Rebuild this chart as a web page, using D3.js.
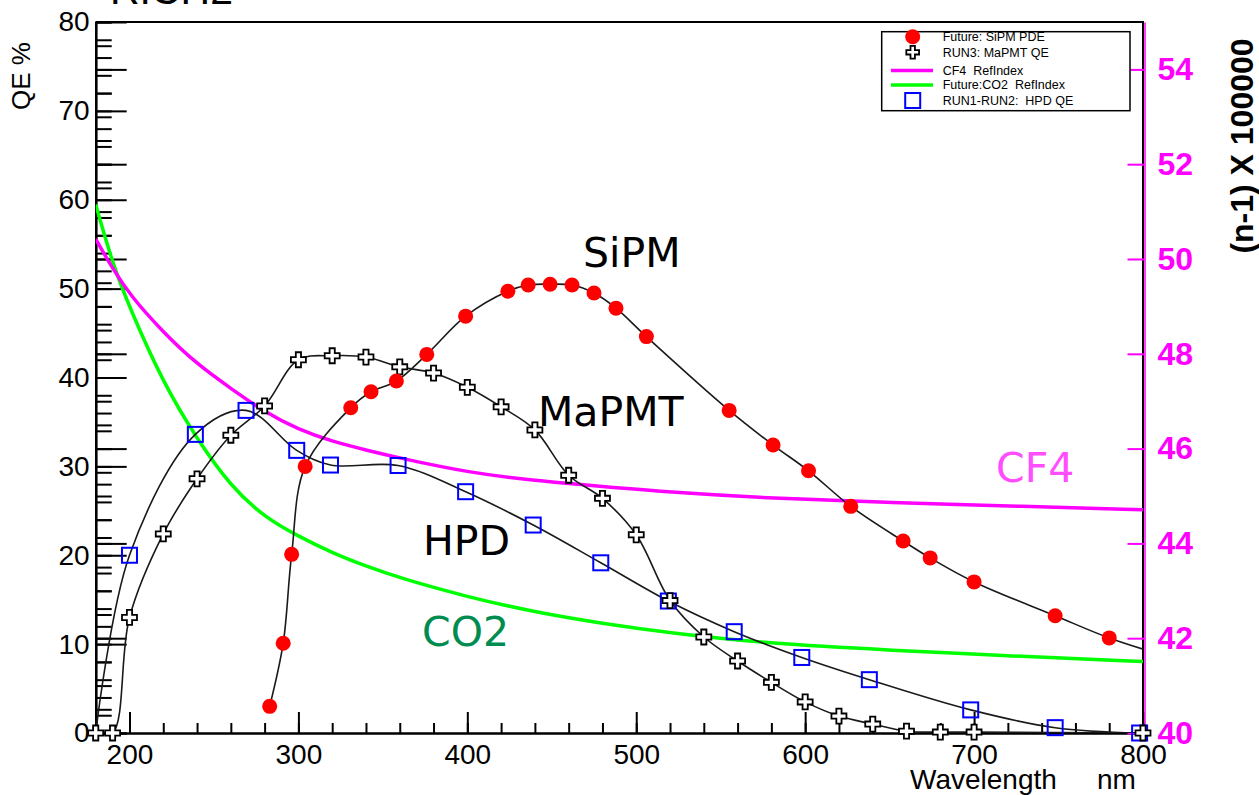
<!DOCTYPE html>
<html>
<head>
<meta charset="utf-8">
<script src="https://cdn.jsdelivr.net/npm/d3@7"></script>
<style>
  html, body { margin: 0; padding: 0; background: #ffffff; overflow: hidden; }
  svg { display: block; }
  .legend-text { white-space: pre; }
</style>
</head>
<body>
<svg id="chart" width="1259" height="795"></svg>
<script>
// ---- photodetector efficiency curves (QE / PDE in %) ----
const sipmWavelength = [283, 291, 296, 304, 331, 343, 358, 376, 399, 424, 436, 449, 462, 475, 488, 506, 555, 581, 602, 627, 658, 674, 700, 748, 780, 820];
const sipmPde        = [3.0, 10.1, 20.1, 30.0, 36.6, 38.4, 39.6, 42.6, 46.9, 49.7, 50.4, 50.5, 50.4, 49.5, 47.8, 44.6, 36.3, 32.4, 29.5, 25.5, 21.6, 19.7, 17.0, 13.2, 10.7, 8.3];

const mapmtWavelength = [180, 190, 200, 220, 240, 260, 280, 300, 320, 340, 360, 380, 400, 420, 440, 460, 480, 500, 520, 540, 560, 580, 600, 620, 640, 660, 680, 700, 800];
const mapmtQe         = [0, 0, 13.0, 22.4, 28.6, 33.5, 36.8, 42.0, 42.45, 42.3, 41.2, 40.5, 38.9, 36.7, 34.1, 29.0, 26.4, 22.3, 14.9, 10.8, 8.1, 5.7, 3.5, 1.9, 1.0, 0.2, 0.1, 0.1, 0];

const hpdWavelength = [180, 200, 239, 269, 299, 319, 359, 399, 439, 479, 519, 558, 598, 638, 698, 748, 798];
const hpdQe         = [0, 20.0, 33.6, 36.3, 31.8, 30.15, 30.1, 27.15, 23.4, 19.15, 14.85, 11.4, 8.5, 6.0, 2.6, 0.6, 0];

// ---- radiator refractive index, (n-1) x 1e5 ----
const gasWavelength = [180, 190, 200, 220, 240, 260, 280, 300, 320, 340, 360, 400, 440, 480, 520, 580, 650, 730, 800];
const cf4Index      = [50.42, 49.8, 49.25, 48.45, 47.78, 47.27, 46.77, 46.40, 46.15, 45.97, 45.80, 45.50, 45.32, 45.20, 45.08, 44.95, 44.86, 44.78, 44.71];
const co2Index      = [51.15, 49.9, 48.98, 47.38, 46.2, 45.2, 44.55, 44.15, 43.8, 43.52, 43.27, 42.87, 42.55, 42.31, 42.11, 41.88, 41.75, 41.61, 41.51];

// ---- axes ----
const wavelengthTicks = [200, 300, 400, 500, 600, 700, 800];
const qeTicks = [0, 10, 20, 30, 40, 50, 60, 70, 80];
const indexTicks = [40, 42, 44, 46, 48, 50, 52, 54];

const legendLabels = ["Future: SiPM PDE", "RUN3: MaPMT QE", "CF4  RefIndex", "Future:CO2  RefIndex", "RUN1-RUN2:  HPD QE"];

const svg = d3.select("#chart");
const frame = { left: 95.7, right: 1143, top: 22, bottom: 733 };
const AXIS_FONT = "'Liberation Sans', Arial, sans-serif";
const LABEL_FONT = "'DejaVu Sans', Verdana, sans-serif";
const MAGENTA = "#ff00ff";

const x = d3.scaleLinear().domain([180, 800]).range([frame.left, frame.right]);
const yQe = d3.scaleLinear().domain([0, 80]).range([frame.bottom, frame.top]);
const yN = d3.scaleLinear().domain([40, 55]).range([frame.bottom, frame.top]);

const rangeStep = (a, b, s) => d3.range(Math.round((b - a) / s) + 1).map(i => +(a + i * s).toFixed(3));

svg.append("clipPath").attr("id", "plotClip")
  .append("rect")
  .attr("x", frame.left).attr("y", frame.top)
  .attr("width", frame.right - frame.left).attr("height", frame.bottom - frame.top);

// title, mostly above the page edge
svg.append("text")
  .attr("x", 110).attr("y", 4)
  .attr("font-family", AXIS_FONT).attr("font-size", 41)
  .text("RICH2");

// frame top and right edges
svg.append("path")
  .attr("d", `M${frame.left},${frame.top}H${frame.right}V${frame.bottom}`)
  .attr("fill", "none").attr("stroke", "#000").attr("stroke-width", 2);

function styleAxis(g, color) {
  g.select(".domain").attr("stroke", color).attr("stroke-width", 2);
  g.selectAll(".tick line").attr("stroke", color).attr("stroke-width", 2);
}

// bottom axis: minor every 20 nm, major every 100 nm
const xMinor = svg.append("g").attr("transform", `translate(0,${frame.bottom})`)
  .call(d3.axisBottom(x).tickValues(rangeStep(180, 800, 20)).tickSizeInner(-10).tickSizeOuter(0).tickFormat(""));
styleAxis(xMinor, "#000");
const xMajor = svg.append("g").attr("transform", `translate(0,${frame.bottom})`)
  .call(d3.axisBottom(x).tickValues(wavelengthTicks).tickSizeInner(-21).tickSizeOuter(0).tickPadding(11).tickFormat(d3.format("d")));
styleAxis(xMajor, "#000");
xMajor.selectAll("text").attr("font-family", AXIS_FONT).attr("font-size", 28).attr("fill", "#000");

// left axis: QE ticks plus the index scale ticks sharing the same edge
const leftGroups = [
  d3.axisLeft(yN).tickValues(rangeStep(40, 55, 0.5)).tickSizeInner(-16),
  d3.axisLeft(yN).tickValues(indexTicks).tickSizeInner(-31),
  d3.axisLeft(yQe).tickValues(rangeStep(0, 80, 2)).tickSizeInner(-16),
];
leftGroups.forEach(ax => {
  const g = svg.append("g").attr("transform", `translate(${frame.left},0)`)
    .call(ax.tickSizeOuter(0).tickFormat(""));
  styleAxis(g, "#000");
});
const yMajor = svg.append("g").attr("transform", `translate(${frame.left},0)`)
  .call(d3.axisLeft(yQe).tickValues(qeTicks).tickSizeInner(-31).tickSizeOuter(0).tickPadding(6));
styleAxis(yMajor, "#000");
yMajor.selectAll("text").attr("font-family", AXIS_FONT).attr("font-size", 28).attr("fill", "#000");

// right axis: refractive index
const yRight = svg.append("g").attr("transform", `translate(${frame.right + 1.5},0)`)
  .call(d3.axisRight(yN).tickValues(indexTicks).tickSizeInner(-17).tickSizeOuter(0).tickPadding(13));
styleAxis(yRight, MAGENTA);
yRight.select(".domain").attr("stroke-width", 1.5);
yRight.selectAll("text").attr("font-family", AXIS_FONT).attr("font-weight", "bold")
  .attr("font-size", 32).attr("fill", MAGENTA);

// axis titles
svg.append("text")
  .attr("transform", "translate(30,76) rotate(-90)")
  .attr("text-anchor", "middle")
  .attr("font-family", AXIS_FONT).attr("font-size", 26)
  .text("QE %");
svg.append("text")
  .attr("transform", "translate(1253,146) rotate(-90)")
  .attr("text-anchor", "middle")
  .attr("font-family", AXIS_FONT).attr("font-size", 32).attr("font-weight", "bold")
  .text("(n-1) X 100000");
svg.append("text")
  .attr("x", 910).attr("y", 789)
  .attr("font-family", AXIS_FONT).attr("font-size", 28)
  .text("Wavelength");
svg.append("text")
  .attr("x", 1097).attr("y", 789)
  .attr("font-family", AXIS_FONT).attr("font-size", 28)
  .text("nm");

// plot contents
const plot = svg.append("g").attr("clip-path", "url(#plotClip)");

const gasLine = d3.line().x(d => x(d[0])).y(d => yN(d[1])).curve(d3.curveBasis);
plot.append("path")
  .attr("d", gasLine(d3.zip(gasWavelength, co2Index)))
  .attr("fill", "none").attr("stroke", "#00ff00").attr("stroke-width", 3.5);
plot.append("path")
  .attr("d", gasLine(d3.zip(gasWavelength, cf4Index)))
  .attr("fill", "none").attr("stroke", MAGENTA).attr("stroke-width", 3.5);

const qeLine = d3.line().x(d => x(d[0])).y(d => yQe(d[1])).curve(d3.curveCatmullRom.alpha(0.5));
const series = [
  { wl: hpdWavelength, v: hpdQe, marker: "square", firstMarker: 1 },
  { wl: mapmtWavelength, v: mapmtQe, marker: "cross", firstMarker: 0 },
  { wl: sipmWavelength, v: sipmPde, marker: "circle", firstMarker: 0 },
];
series.forEach(s => {
  plot.append("path")
    .attr("d", qeLine(d3.zip(s.wl, s.v)))
    .attr("fill", "none").attr("stroke", "#1a1a1a").attr("stroke-width", 1.6);
});

const crossPath = (h, w) =>
  `M${-w},${-h}H${w}V${-w}H${h}V${w}H${w}V${h}H${-w}V${w}H${-h}V${-w}H${-w}Z`;

function drawMarker(g, kind, cx, cy, scale = 1) {
  if (kind === "circle") {
    g.append("circle").attr("cx", cx).attr("cy", cy).attr("r", 7.5 * scale).attr("fill", "#ff0000");
  } else if (kind === "cross") {
    g.append("path").attr("transform", `translate(${cx},${cy})`)
      .attr("d", crossPath(7.5 * scale, 2.6 * scale))
      .attr("fill", "#fff").attr("stroke", "#000").attr("stroke-width", 1.8);
  } else {
    const s = 15 * scale;
    g.append("rect").attr("x", cx - s / 2).attr("y", cy - s / 2).attr("width", s).attr("height", s)
      .attr("fill", "none").attr("stroke", "#0000ff").attr("stroke-width", 2);
  }
}

const markers = svg.append("g");
series.forEach(s => {
  s.wl.forEach((w, i) => {
    if (i < s.firstMarker || w > 800) return;
    drawMarker(markers, s.marker, x(w), yQe(s.v[i]));
  });
});

// curve annotations
const notes = [
  { text: "SiPM", x: 583, y: 267, color: "#000" },
  { text: "MaPMT", x: 538, y: 426, color: "#000" },
  { text: "HPD", x: 423, y: 555, color: "#000" },
  { text: "CO2", x: 422, y: 646, color: "#008c50" },
  { text: "CF4", x: 996, y: 482, color: "#ff4dff" },
];
notes.forEach(n => {
  svg.append("text").attr("x", n.x).attr("y", n.y)
    .attr("font-family", LABEL_FONT).attr("font-size", 41).attr("fill", n.color)
    .text(n.text);
});

// legend
const legend = svg.append("g");
legend.append("rect")
  .attr("x", 881.7).attr("y", 31.7).attr("width", 248.3).attr("height", 79)
  .attr("fill", "#fff").attr("stroke", "#000").attr("stroke-width", 1.5);
const legendRows = [36.7, 52.3, 70.5, 85, 100.5];
const legendKinds = ["circle", "cross", MAGENTA, "#00ff00", "square"];
legendLabels.forEach((label, i) => {
  const cy = legendRows[i];
  const kind = legendKinds[i];
  if (kind.startsWith("#")) {
    legend.append("line").attr("x1", 891).attr("x2", 933).attr("y1", cy).attr("y2", cy)
      .attr("stroke", kind).attr("stroke-width", 3.5);
  } else {
    drawMarker(legend, kind, 912.7, cy, kind === "cross" ? 0.85 : 1);
  }
  legend.append("text").attr("class", "legend-text")
    .attr("x", 942.7).attr("y", cy + 4.4)
    .attr("font-family", AXIS_FONT).attr("font-size", 12.5).attr("fill", "#000")
    .text(label);
});
</script>
</body>
</html>
